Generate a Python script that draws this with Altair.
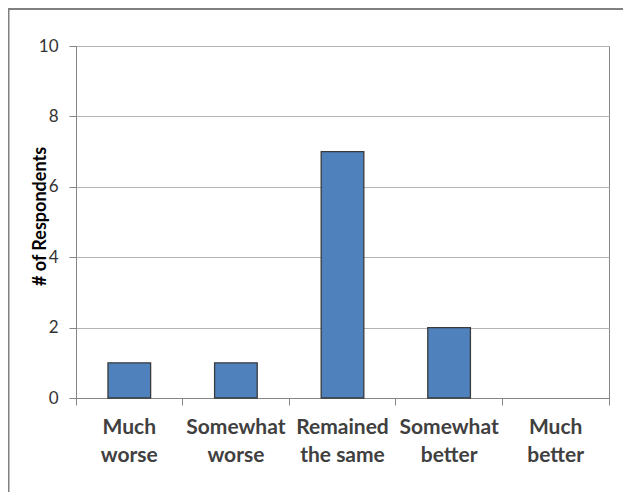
import altair as alt
import pandas as pd

categories = ["Much\nworse", "Somewhat\nworse", "Remained\nthe same", "Somewhat\nbetter", "Much\nbetter"]
respondents = [1, 1, 7, 2, 0]
y_ticks = [0, 2, 4, 6, 8, 10]

df = pd.DataFrame({"category": categories, "respondents": respondents})

W, H = 533, 352
FONT = "Lato"

x_enc = alt.X(
    "category:N",
    sort=categories,
    scale=alt.Scale(domain=categories, paddingInner=0, paddingOuter=0),
    axis=alt.Axis(
        title=None,
        labelAngle=0,
        labelExpr="split(datum.label, '\\n')",
        labelFont=FONT,
        labelFontWeight="bold",
        labelFontSize=21,
        labelColor="#404040",
        labelLineHeight=28,
        labelBaseline="alphabetic",
        labelPadding=28,
        bandPosition=1,
        tickExtra=True,
        tickSize=7,
        tickColor="#868686",
        domainColor="#868686",
        grid=False,
    ),
)

bars = alt.Chart(df).transform_filter("datum.respondents > 0").mark_bar(
    width=alt.RelativeBandSize(0.4),
    color="#4F81BD",
    stroke="#3a3a3a",
    strokeWidth=1.3,
).encode(
    x=x_enc,
    y=alt.Y(
        "respondents:Q",
        scale=alt.Scale(domain=[0, 10], nice=False),
        axis=alt.Axis(
            values=y_ticks,
            title="# of Respondents",
            titleFont=FONT,
            titleFontWeight="bold",
            titleFontSize=18,
            titleColor="#000000",
            titleAngle=270,
            titleAlign="center",
            titleBaseline="alphabetic",
            titleX=-31,
            titleY=170,
            labelFont=FONT,
            labelFontSize=17,
            labelColor="#333333",
            labelPadding=11,
            tickSize=7,
            tickColor="#868686",
            domainColor="#868686",
            gridColor="#b3b3b3",
            grid=True,
        ),
    ),
)

frame_data = alt.Data(values=[{"k": 1}])
top_line = alt.Chart(frame_data).mark_rule(color="#808080", strokeWidth=2).encode(
    x=alt.value(-70), x2=alt.value(W + 20), y=alt.value(-37)
)
left_line = alt.Chart(frame_data).mark_rule(color="#808080", strokeWidth=2).encode(
    x=alt.value(-67.5), y=alt.value(-38), y2=alt.value(H + 110)
)

chart = alt.layer(bars, top_line, left_line).properties(
    width=W,
    height=H,
    autosize=alt.AutoSizeParams(type="none"),
    padding={"left": 68, "top": 38, "right": 14, "bottom": 94},
    background="#ffffff",
).configure_view(stroke="#868686", strokeWidth=1)

chart.save("out.html", embed_options={"renderer": "svg", "actions": False})
